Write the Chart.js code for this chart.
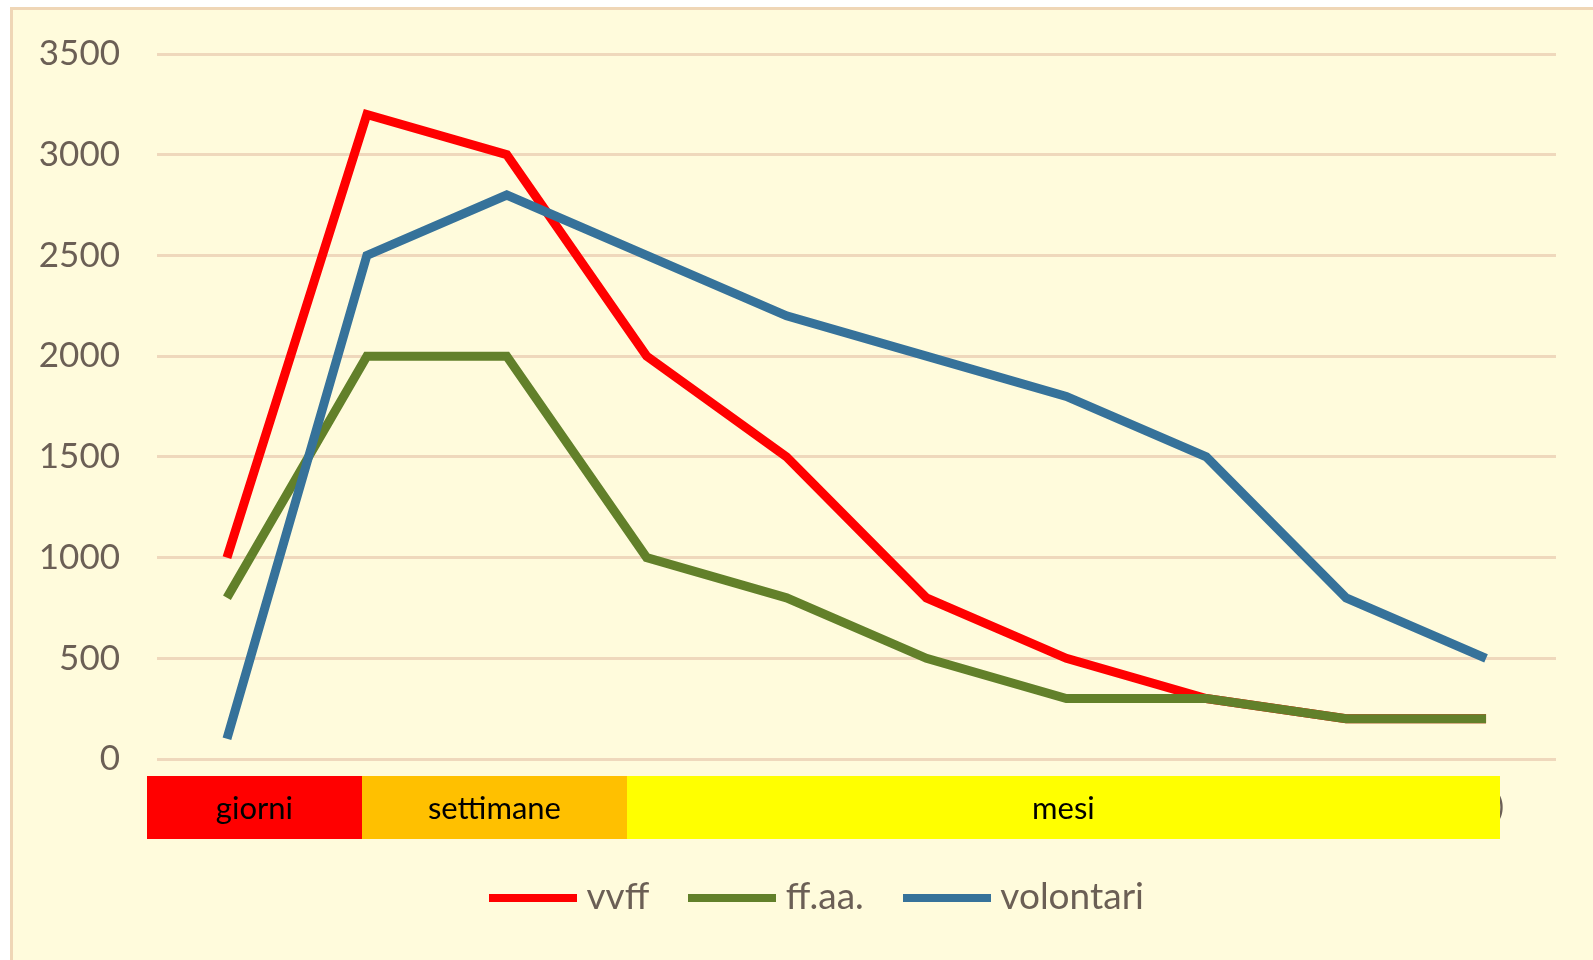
<!DOCTYPE html>
<html>
<head>
<meta charset="utf-8">
<script src="https://cdn.jsdelivr.net/npm/chart.js@4.4.1/dist/chart.umd.min.js"></script>
<style>
html,body{margin:0;padding:0;background:#ffffff;overflow:hidden}
#wrap{position:absolute;left:0;top:0;width:1593px;height:960px}
</style>
</head>
<body>
<div id="wrap"><canvas id="c" width="1593" height="960"></canvas></div>
<script>
// ---- data ----
const categories = ['1', '2', '3', '4', '5', '6', '7', '8', '9', '10'];
const vvff      = [1000, 3200, 3000, 2000, 1500, 800, 500, 300, 200, 200];
const ffaa      = [800, 2000, 2000, 1000, 800, 500, 300, 300, 200, 200];
const volontari = [100, 2500, 2800, 2500, 2200, 2000, 1800, 1500, 800, 500];
const seriesNames = ['vvff', 'ff.aa.', 'volontari'];
const yTicks = [0, 500, 1000, 1500, 2000, 2500, 3000, 3500];
// time-period bands under the axis (in category-index units)
const bandLabels = ['giorni', 'settimane', 'mesi'];
const bandFrom   = [-0.572, 0.965, 2.859];
const bandTo     = [0.965, 2.859, 9.099];
const bandColors = ['#FF0000', '#FFC000', '#FFFF00'];
const hiddenLabelTail = ')';

// ---- styles ----
const W = 1593, H = 960;
const TEXT = '#6b5f55';
const FONT = 'Lato, "Open Sans", "Liberation Sans", sans-serif';

function lineImage(color, w, h) {
  const c = document.createElement('canvas');
  c.width = w; c.height = h;
  const g = c.getContext('2d');
  g.fillStyle = color;
  g.fillRect(0, 0, w, h);
  return c;
}

const bgPlugin = {
  id: 'bg',
  beforeDraw(chart) {
    const ctx = chart.ctx;
    ctx.save();
    ctx.fillStyle = '#ffffff';
    ctx.fillRect(0, 0, W, H);
    ctx.fillStyle = '#FFFBDC';
    ctx.fillRect(10, 7, W, H);
    ctx.fillStyle = '#EFD6B6';
    ctx.fillRect(10, 7, 3, H);
    ctx.fillRect(10, 7, W, 3);
    ctx.restore();
  }
};

// centre the legend under the same spot as in the original
const legendShift = {
  id: 'legendShift',
  afterLayout(chart) {
    if (chart.legend) { chart.legend.left += 43; chart.legend.right += 43; }
  }
};

const bandPlugin = {
  id: 'bands',
  afterDatasetsDraw(chart) {
    const ctx = chart.ctx;
    const xs = chart.scales.x;
    const top = chart.chartArea.bottom + 17;
    const h = 63;
    ctx.save();
    // tail of the category label hidden behind the bands
    ctx.fillStyle = TEXT;
    ctx.font = '30px ' + FONT;
    ctx.textAlign = 'left';
    ctx.textBaseline = 'middle';
    const lastR = xs.getPixelForValue(bandTo[bandTo.length - 1]);
    ctx.fillText(hiddenLabelTail, lastR - 4, top + h / 2);
    for (let i = 0; i < bandLabels.length; i++) {
      const l = xs.getPixelForValue(bandFrom[i]);
      const r = xs.getPixelForValue(bandTo[i]);
      ctx.fillStyle = bandColors[i];
      ctx.fillRect(Math.round(l), top, Math.round(r) - Math.round(l), h);
      ctx.fillStyle = '#000000';
      ctx.font = '31px ' + FONT;
      ctx.textAlign = 'center';
      ctx.textBaseline = 'middle';
      ctx.fillText(bandLabels[i], (l + r) / 2, top + h / 2 + 1);
    }
    ctx.restore();
  }
};

function build() {
  const defaultGen = Chart.defaults.plugins.legend.labels.generateLabels;
  new Chart(document.getElementById('c'), {
    type: 'line',
    data: {
      labels: categories,
      datasets: [
        { label: seriesNames[0], data: vvff, borderColor: '#FF0000', backgroundColor: '#FF0000', order: 3 },
        { label: seriesNames[1], data: ffaa, borderColor: '#62802A', backgroundColor: '#62802A', order: 2 },
        { label: seriesNames[2], data: volontari, borderColor: '#36729A', backgroundColor: '#36729A', order: 1 }
      ]
    },
    options: {
      responsive: false,
      animation: false,
      devicePixelRatio: 1,
      layout: { padding: { left: 0, right: 37, top: 54, bottom: 34 } },
      elements: {
        line: { borderWidth: 9, tension: 0, borderCapStyle: 'butt', borderJoinStyle: 'miter', fill: false },
        point: { radius: 0, hoverRadius: 0 }
      },
      scales: {
        x: {
          type: 'category',
          offset: true,
          grid: { display: false },
          border: { display: false },
          ticks: { display: false },
          afterFit(s) { s.height = 72; }
        },
        y: {
          min: 0,
          max: 3500,
          afterFit(s) { s.width = 157; s.paddingTop = 0; s.paddingBottom = 0; },
          afterBuildTicks(s) { s.ticks = yTicks.map(v => ({ value: v })); },
          grid: { color: '#EFD8BC', lineWidth: 3, drawTicks: false },
          border: { display: false },
          ticks: {
            padding: 37,
            color: TEXT,
            font: { family: FONT, size: 35 },
            callback: v => String(v)
          }
        }
      },
      plugins: {
        tooltip: { enabled: false },
        legend: {
          position: 'bottom',
          reverse: true,
          labels: {
            usePointStyle: true,
            pointStyleWidth: 70,
            boxHeight: 8,
            padding: 48,
            color: TEXT,
            font: { family: FONT, size: 37 },
            generateLabels(chart) {
              const items = defaultGen(chart);
              items.forEach(it => { it.pointStyle = lineImage(it.strokeStyle, 88, 8); });
              return items;
            }
          }
        }
      }
    },
    plugins: [bgPlugin, legendShift, bandPlugin]
  });
}

const ready = document.fonts && document.fonts.load
  ? Promise.all([document.fonts.load('35px Lato'), document.fonts.load('30px Lato')]).catch(() => {})
  : Promise.resolve();
Promise.race([ready, new Promise(r => setTimeout(r, 800))]).then(build);
</script>
</body>
</html>
